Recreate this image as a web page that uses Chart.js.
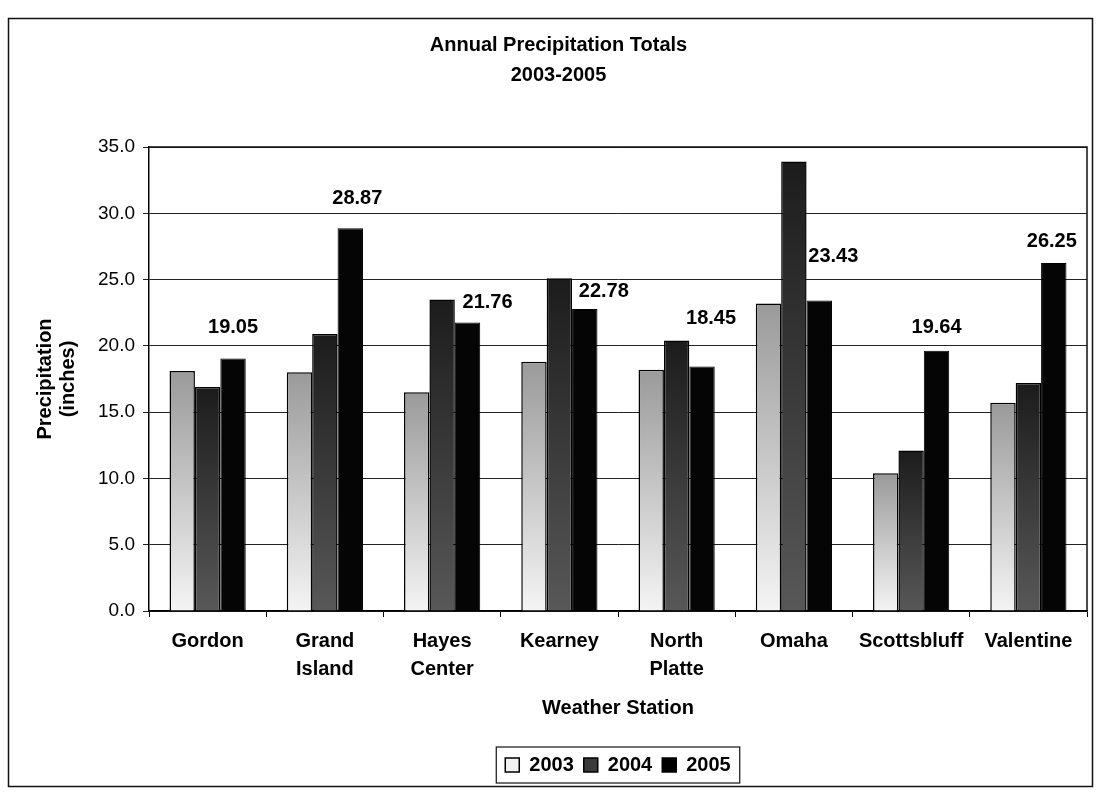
<!DOCTYPE html>
<html lang="en">
  <head>
    <meta charset="UTF-8" />
    <title>Annual Precipitation Totals 2003-2005</title>
    <style>
      html,
      body {
        margin: 0;
        padding: 0;
        background: #fff;
      }
      #precipChart {
        display: block;
      }
    </style>
  </head>

  <body>
    <canvas id="precipChart" width="1096" height="792"></canvas>

    <script src="https://cdn.jsdelivr.net/npm/chart.js@4.4.1/dist/chart.umd.min.js"></script>

    <script>
      var stations = [
        ["Gordon"],
        ["Grand", "Island"],
        ["Hayes", "Center"],
        ["Kearney"],
        ["North", "Platte"],
        ["Omaha"],
        ["Scottsbluff"],
        ["Valentine"],
      ];
      var years = ["2003", "2004", "2005"];
      var precip2003 = [18.1, 18.0, 16.5, 18.8, 18.2, 23.2, 10.4, 15.7];
      var precip2004 = [16.9, 20.9, 23.5, 25.1, 20.4, 33.9, 12.1, 17.2];
      var precip2005 = [19.05, 28.87, 21.76, 22.78, 18.45, 23.43, 19.64, 26.25];
      var yTicks = [0, 5, 10, 15, 20, 25, 30, 35];

      var FONT = "'Liberation Sans', Arial, Helvetica, sans-serif";

      // where the 2005 value labels sit, relative to the top of each bar (px)
      var labelNudge = [
        [0, 31],
        [7, 30],
        [20, 20],
        [19, 18],
        [9, 48],
        [14, 44],
        [0, 23],
        [-2, 22],
      ];
      var legendFill = ["#f2f2f2", "#3a3a3a", "#000"];

      // scanned bars are lighter near the base, so shade each bar top -> bottom
      function shade(top, bottom) {
        return function (ctx) {
          var chart = ctx.chart;
          var y = chart.scales.y;
          if (!y || ctx.type !== "data" || !ctx.parsed) return bottom;
          var y1 = y.getPixelForValue(ctx.parsed.y);
          var y0 = y.getPixelForValue(0);
          if (!isFinite(y0) || !isFinite(y1) || y0 === y1) return bottom;
          var g = chart.ctx.createLinearGradient(0, y1, 0, y0);
          g.addColorStop(0, top);
          g.addColorStop(1, bottom);
          return g;
        };
      }

      var frames = {
        id: "frames",
        beforeDraw: function (chart) {
          var c = chart.ctx;
          c.save();
          c.fillStyle = "#fff";
          c.fillRect(0, 0, chart.width, chart.height);
          c.restore();
        },
        afterDraw: function (chart) {
          var c = chart.ctx;
          var a = chart.chartArea;
          c.save();
          c.strokeStyle = "#111";
          c.lineWidth = 1.5;
          // outer chart border
          c.strokeRect(8.5, 18.5, 1084, 768);
          // top and right edges of the plot area
          c.beginPath();
          c.moveTo(a.left, a.top);
          c.lineTo(a.right, a.top);
          c.lineTo(a.right, a.bottom);
          c.stroke();
          // box round the legend
          var boxes = chart.legend.legendHitBoxes;
          if (boxes && boxes.length) {
            var l = boxes[0].left - 9;
            var last = boxes[boxes.length - 1];
            var r = last.left + last.width + 9;
            var t = boxes[0].top - 8;
            var b = boxes[0].top + boxes[0].height + 8;
            c.lineWidth = 1.2;
            c.strokeRect(l, t, r - l, b - t);
          }
          c.restore();
        },
      };

      var valueLabels = {
        id: "valueLabels",
        afterDatasetsDraw: function (chart) {
          var meta = chart.getDatasetMeta(2);
          var c = chart.ctx;
          c.save();
          c.font = "bold 20px " + FONT;
          c.fillStyle = "#000";
          c.textAlign = "center";
          c.textBaseline = "middle";
          meta.data.forEach(function (bar, i) {
            var n = labelNudge[i];
            c.fillText(precip2005[i].toFixed(2), bar.x + n[0], bar.y - n[1]);
          });
          c.restore();
        },
      };

      var ctx = document.getElementById("precipChart").getContext("2d");
      var precipChart = new Chart(ctx, {
        type: "bar",
        data: {
          labels: stations,
          datasets: [
            {
              label: years[0],
              data: precip2003,
              backgroundColor: shade("#9a9a9a", "#f4f4f4"),
              borderColor: "#000",
              borderWidth: 1.5,
            },
            {
              label: years[1],
              data: precip2004,
              backgroundColor: shade("#1c1c1c", "#585858"),
              borderColor: "#000",
              borderWidth: 1.5,
            },
            {
              label: years[2],
              data: precip2005,
              backgroundColor: "#050505",
              borderColor: "#000",
              borderWidth: 1,
            },
          ],
        },
        options: {
          responsive: false,
          animation: false,
          categoryPercentage: 0.65,
          barPercentage: 1.0,
          layout: {
            padding: { left: 30, right: 9, top: 0, bottom: 7 },
          },
          plugins: {
            tooltip: { enabled: false },
            title: {
              display: true,
              text: ["Annual Precipitation Totals", "2003-2005"],
              color: "#000",
              font: { family: FONT, size: 20, weight: "bold", lineHeight: 1.5 },
              padding: { top: 30, bottom: 57 },
            },
            legend: {
              position: "bottom",
              fullSize: false,
              labels: {
                color: "#000",
                boxWidth: 14,
                boxHeight: 14,
                padding: 10,
                font: { family: FONT, size: 20, weight: "bold" },
                generateLabels: function (chart) {
                  return chart.data.datasets.map(function (ds, i) {
                    return {
                      text: ds.label,
                      fillStyle: legendFill[i],
                      strokeStyle: "#000",
                      lineWidth: 1.5,
                      fontColor: "#000",
                      datasetIndex: i,
                    };
                  });
                },
              },
            },
          },
          scales: {
            x: {
              offset: true,
              grid: {
                drawOnChartArea: false,
                drawTicks: true,
                tickLength: 6,
                color: "#000",
                offset: true,
              },
              border: { color: "#000", width: 1.5 },
              ticks: {
                color: "#000",
                autoSkip: false,
                maxRotation: 0,
                padding: 10,
                font: { family: FONT, size: 20, weight: "bold", lineHeight: 1.4 },
              },
              title: {
                display: true,
                text: "Weather Station",
                color: "#000",
                font: { family: FONT, size: 20, weight: "bold", lineHeight: 1.2 },
                padding: { top: 10, bottom: 25 },
              },
              afterFit: function (scale) {
                scale.height = 134;
              },
            },
            y: {
              min: yTicks[0],
              max: yTicks[yTicks.length - 1],
              grid: { color: "#222", lineWidth: 1, tickLength: 6, drawTicks: true },
              border: { color: "#000", width: 1.5 },
              ticks: {
                stepSize: yTicks[1] - yTicks[0],
                color: "#000",
                padding: 8,
                font: { family: FONT, size: 19 },
                callback: function (v) {
                  return v.toFixed(1);
                },
              },
              title: {
                display: true,
                text: ["Precipitation", "(inches)"],
                color: "#000",
                font: { family: FONT, size: 20, weight: "bold", lineHeight: 1.15 },
                padding: { top: 4, bottom: 0 },
              },
              afterFit: function (scale) {
                scale.width = 119;
              },
            },
          },
        },
        plugins: [frames, valueLabels],
      });
    </script>
  </body>
</html>
